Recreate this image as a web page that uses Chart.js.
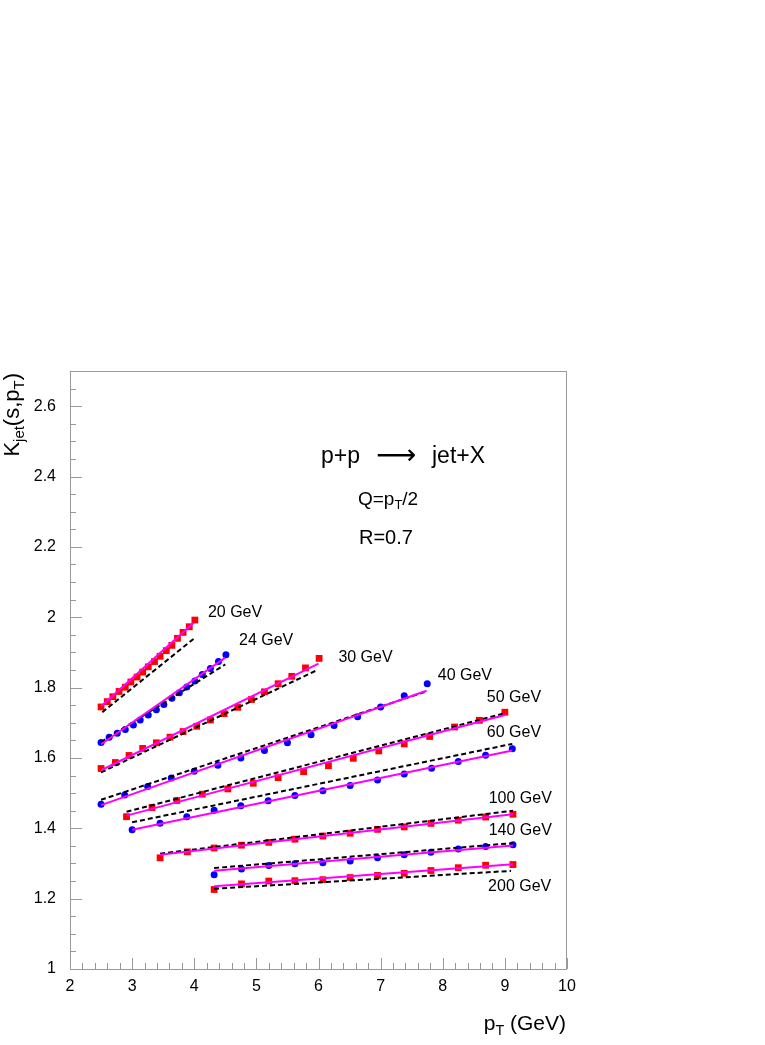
<!DOCTYPE html>
<html><head><meta charset="utf-8">
<script src="https://cdn.jsdelivr.net/npm/chart.js@4.4.1/dist/chart.umd.min.js"></script>
<style>html,body{margin:0;padding:0;background:#fff;}canvas{display:block;}</style>
</head><body>
<canvas id="c" width="765" height="1045"></canvas>
<script>
// ---- data ----
const energies = ['20 GeV','24 GeV','30 GeV','40 GeV','50 GeV','60 GeV','100 GeV','140 GeV','200 GeV'];
const xTicks = [2,3,4,5,6,7,8,9,10];
const xTickLabels = ['2','3','4','5','6','7','8','9','10'];
const yTicks = [1,1.2,1.4,1.6,1.8,2,2.2,2.4,2.6];
const yTickLabels = ['1','1.2','1.4','1.6','1.8','2','2.2','2.4','2.6'];

const pt20 = [2.50,2.60,2.69,2.79,2.89,2.98,3.08,3.17,3.26,3.36,3.45,3.55,3.64,3.73,3.82,3.92,4.01];
const k20  = [1.745,1.760,1.774,1.789,1.801,1.816,1.830,1.844,1.859,1.874,1.889,1.905,1.920,1.940,1.957,1.973,1.992];
const pt24 = [2.50,2.63,2.76,2.89,3.02,3.13,3.26,3.39,3.51,3.64,3.76,3.88,4.01,4.13,4.26,4.39,4.51];
const k24  = [1.644,1.659,1.670,1.681,1.694,1.708,1.722,1.737,1.752,1.770,1.785,1.802,1.819,1.837,1.854,1.874,1.893];
const pt30 = [2.50,2.73,2.95,3.17,3.39,3.61,3.82,4.04,4.26,4.48,4.70,4.92,5.13,5.35,5.57,5.79,6.01];
const k30  = [1.570,1.587,1.607,1.627,1.643,1.659,1.675,1.690,1.708,1.726,1.744,1.766,1.788,1.811,1.832,1.856,1.883];
const pt40 = [2.50,2.88,3.25,3.63,4.00,4.38,4.75,5.13,5.50,5.88,6.25,6.63,7.00,7.38,7.75];
const k40  = [1.468,1.495,1.519,1.543,1.562,1.579,1.600,1.621,1.643,1.666,1.692,1.717,1.745,1.777,1.811];
const pt50 = [2.91,3.32,3.72,4.13,4.54,4.95,5.35,5.76,6.16,6.56,6.97,7.38,7.79,8.19,8.59,9.00];
const k50  = [1.433,1.459,1.479,1.497,1.512,1.528,1.544,1.561,1.578,1.599,1.620,1.640,1.661,1.688,1.707,1.730];
const pt60 = [3.00,3.45,3.88,4.32,4.75,5.19,5.62,6.07,6.51,6.95,7.38,7.82,8.25,8.69,9.12];
const k60  = [1.396,1.414,1.433,1.451,1.464,1.478,1.493,1.507,1.522,1.537,1.554,1.571,1.590,1.608,1.626];
const pt100 = [3.45,3.89,4.32,4.76,5.20,5.62,6.07,6.51,6.95,7.38,7.81,8.25,8.69,9.13];
const k100  = [1.316,1.333,1.344,1.352,1.360,1.369,1.378,1.386,1.397,1.404,1.414,1.423,1.432,1.440];
const pt140 = [4.32,4.76,5.20,5.62,6.07,6.51,6.95,7.38,7.81,8.25,8.69,9.13];
const k140  = [1.268,1.284,1.294,1.299,1.302,1.307,1.316,1.325,1.332,1.341,1.348,1.353];
const pt200 = [4.32,4.76,5.20,5.62,6.07,6.51,6.95,7.38,7.81,8.25,8.69,9.13];
const k200  = [1.226,1.242,1.250,1.251,1.254,1.260,1.266,1.272,1.280,1.288,1.295,1.297];

// solid (fit) curves: [pT, K] end points
const fit20  = [[2.50,1.747],[3.99,1.984]];
const fit24  = [[2.50,1.639],[4.50,1.885]];
const fit30  = [[2.50,1.565],[6.00,1.868]];
const fit40  = [[2.50,1.466],[7.74,1.791]];
const fit50  = [[2.91,1.436],[9.00,1.722]];
const fit60  = [[3.00,1.396],[9.12,1.621]];
const fit100 = [[3.45,1.325],[9.13,1.440]];
const fit140 = [[4.32,1.279],[9.13,1.351]];
const fit200 = [[4.32,1.235],[9.13,1.298]];
// dashed curves
const dash20  = [[2.52,1.730],[4.00,1.940]];
const dash24  = [[2.50,1.645],[4.50,1.866]];
const dash30  = [[2.50,1.559],[5.97,1.849]];
const dash40  = [[2.50,1.481],[7.75,1.790]];
const dash50  = [[2.91,1.447],[9.00,1.727]];
const dash60  = [[3.00,1.417],[9.12,1.640]];
const dash100 = [[3.45,1.328],[9.13,1.450]];
const dash140 = [[4.32,1.287],[9.13,1.358]];
const dash200 = [[4.32,1.228],[9.10,1.279]];

// label anchors (data units: left edge, vertical centre)
const labelAnchors = [[4.22,2.014],[4.72,1.935],[6.32,1.885],[7.92,1.834],[8.71,1.772],[8.71,1.673],[8.74,1.484],[8.74,1.393],[8.73,1.233]];

// ---- build datasets ----
const RED = '#ff0000', BLUE = '#0000ff', MAG = '#ff00ff';
const seriesDefs = [
  [pt20,k20,fit20,dash20,'rect',RED],
  [pt24,k24,fit24,dash24,'circle',BLUE],
  [pt30,k30,fit30,dash30,'rect',RED],
  [pt40,k40,fit40,dash40,'circle',BLUE],
  [pt50,k50,fit50,dash50,'rect',RED],
  [pt60,k60,fit60,dash60,'circle',BLUE],
  [pt100,k100,fit100,dash100,'rect',RED],
  [pt140,k140,fit140,dash140,'circle',BLUE],
  [pt200,k200,fit200,dash200,'rect',RED]
];
const datasets = [];
seriesDefs.forEach((s,i)=>{
  const [px,py,fit,dash,style,col] = s;
  datasets.push({
    label: energies[i], data: px.map((v,j)=>({x:v,y:py[j]})),
    pointStyle: style, pointRadius: style==='rect'?4.8:3.5, pointBackgroundColor: col,
    pointBorderWidth: 0, showLine:false, order:3
  });
  datasets.push({
    label: energies[i]+' dashed', data: dash.map(p=>({x:p[0],y:p[1]})),
    showLine:true, pointRadius:0, borderColor:'#000', borderWidth:2, borderDash:[5,3], fill:false, order:2
  });
  datasets.push({
    label: energies[i]+' fit', data: fit.map(p=>({x:p[0],y:p[1]})),
    showLine:true, pointRadius:0, borderColor:MAG, borderWidth:2, fill:false, order:1
  });
});

const FONT = '"Liberation Sans", Arial, Helvetica, sans-serif';

function drawRich(ctx, parts, x, y, size){
  let cx = x;
  parts.forEach(p=>{
    const fs = p.sub ? size*0.68 : size;
    ctx.font = fs+'px '+FONT;
    ctx.fillText(p.t, cx, y + (p.sub ? size*0.22 : 0));
    cx += ctx.measureText(p.t).width;
  });
  return cx - x;
}
function richWidth(ctx, parts, size){
  let w = 0;
  parts.forEach(p=>{ ctx.font = (p.sub?size*0.68:size)+'px '+FONT; w += ctx.measureText(p.t).width; });
  return w;
}

const deco = {
  id:'deco',
  afterDraw(chart){
    const {ctx, chartArea:a, scales:{x,y}} = chart;
    ctx.save();
    // frame
    ctx.strokeStyle = '#999'; ctx.lineWidth = 1;
    ctx.strokeRect(a.left+0.5, a.top+0.5, a.right-a.left-1, a.bottom-a.top);
    // inward ticks
    ctx.beginPath();
    for (let i=0;i<=40;i++){
      const v = 2 + i*0.2; const px = Math.round(x.getPixelForValue(v))+0.5;
      const len = (i%5===0)?11:6;
      ctx.moveTo(px, a.bottom); ctx.lineTo(px, a.bottom-len);
    }
    for (let i=0;i<=34;i++){
      const v = 1 + i*0.05; const py = Math.round(y.getPixelForValue(v))+0.5;
      const len = (i%4===0)?12:6;
      ctx.moveTo(a.left, py); ctx.lineTo(a.left+len, py);
    }
    ctx.stroke();

    ctx.fillStyle = '#000';
    // series labels
    ctx.textBaseline = 'middle'; ctx.textAlign = 'left';
    ctx.font = '16px '+FONT;
    energies.forEach((e,i)=>{
      ctx.fillText(e, x.getPixelForValue(labelAnchors[i][0]), y.getPixelForValue(labelAnchors[i][1]));
    });
    // annotations
    ctx.textBaseline = 'alphabetic';
    ctx.font = '23px '+FONT;
    ctx.fillText('p+p', 321, 463);
    ctx.font = '28px "DejaVu Sans", sans-serif';
    ctx.fillText('\u27F6', 376, 464);
    ctx.font = '23px '+FONT;
    ctx.fillText('jet+X', 432, 463);
    drawRich(ctx, [{t:'Q=p'},{t:'T',sub:true},{t:'/2'}], 358, 505, 19);
    ctx.font = '20px '+FONT;
    ctx.fillText('R=0.7', 359, 544);

    // x title
    const xt = [{t:'p'},{t:'T',sub:true},{t:' (GeV)'}];
    const xw = richWidth(ctx, xt, 21);
    drawRich(ctx, xt, 566 - xw, 1030, 21);
    // y title
    const yt = [{t:'K'},{t:'jet',sub:true},{t:'(s,p'},{t:'T',sub:true},{t:')'}];
    const yw = richWidth(ctx, yt, 22);
    ctx.translate(19, 373); ctx.rotate(-Math.PI/2);
    drawRich(ctx, yt, -yw, 0, 22);
    ctx.restore();
  }
};

new Chart(document.getElementById('c'), {
  type:'scatter',
  data:{datasets},
  options:{
    responsive:false, animation:false, devicePixelRatio:1,
    layout:{padding:{left:0,right:198,top:371,bottom:46}},
    plugins:{legend:{display:false}, tooltip:{enabled:false}},
    scales:{
      x:{type:'linear', min:2, max:10,
        grid:{display:false, drawTicks:false}, border:{display:false},
        ticks:{color:'#000', font:{family:FONT, size:16}, padding:8, maxRotation:0, autoSkip:false,
          callback:(v,i)=>xTickLabels[i]},
        afterBuildTicks:s=>{ s.ticks = xTicks.map(v=>({value:v})); },
        afterFit:s=>{ s.height = 30; }
      },
      y:{type:'linear', min:1, max:2.7,
        grid:{display:false, drawTicks:false}, border:{display:false},
        ticks:{color:'#000', font:{family:FONT, size:16}, padding:14, autoSkip:false,
          callback:(v,i)=>yTickLabels[i]},
        afterBuildTicks:s=>{ s.ticks = yTicks.map(v=>({value:v})); },
        afterFit:s=>{ s.width = 70; }
      }
    }
  },
  plugins:[deco]
});
</script>
</body></html>
